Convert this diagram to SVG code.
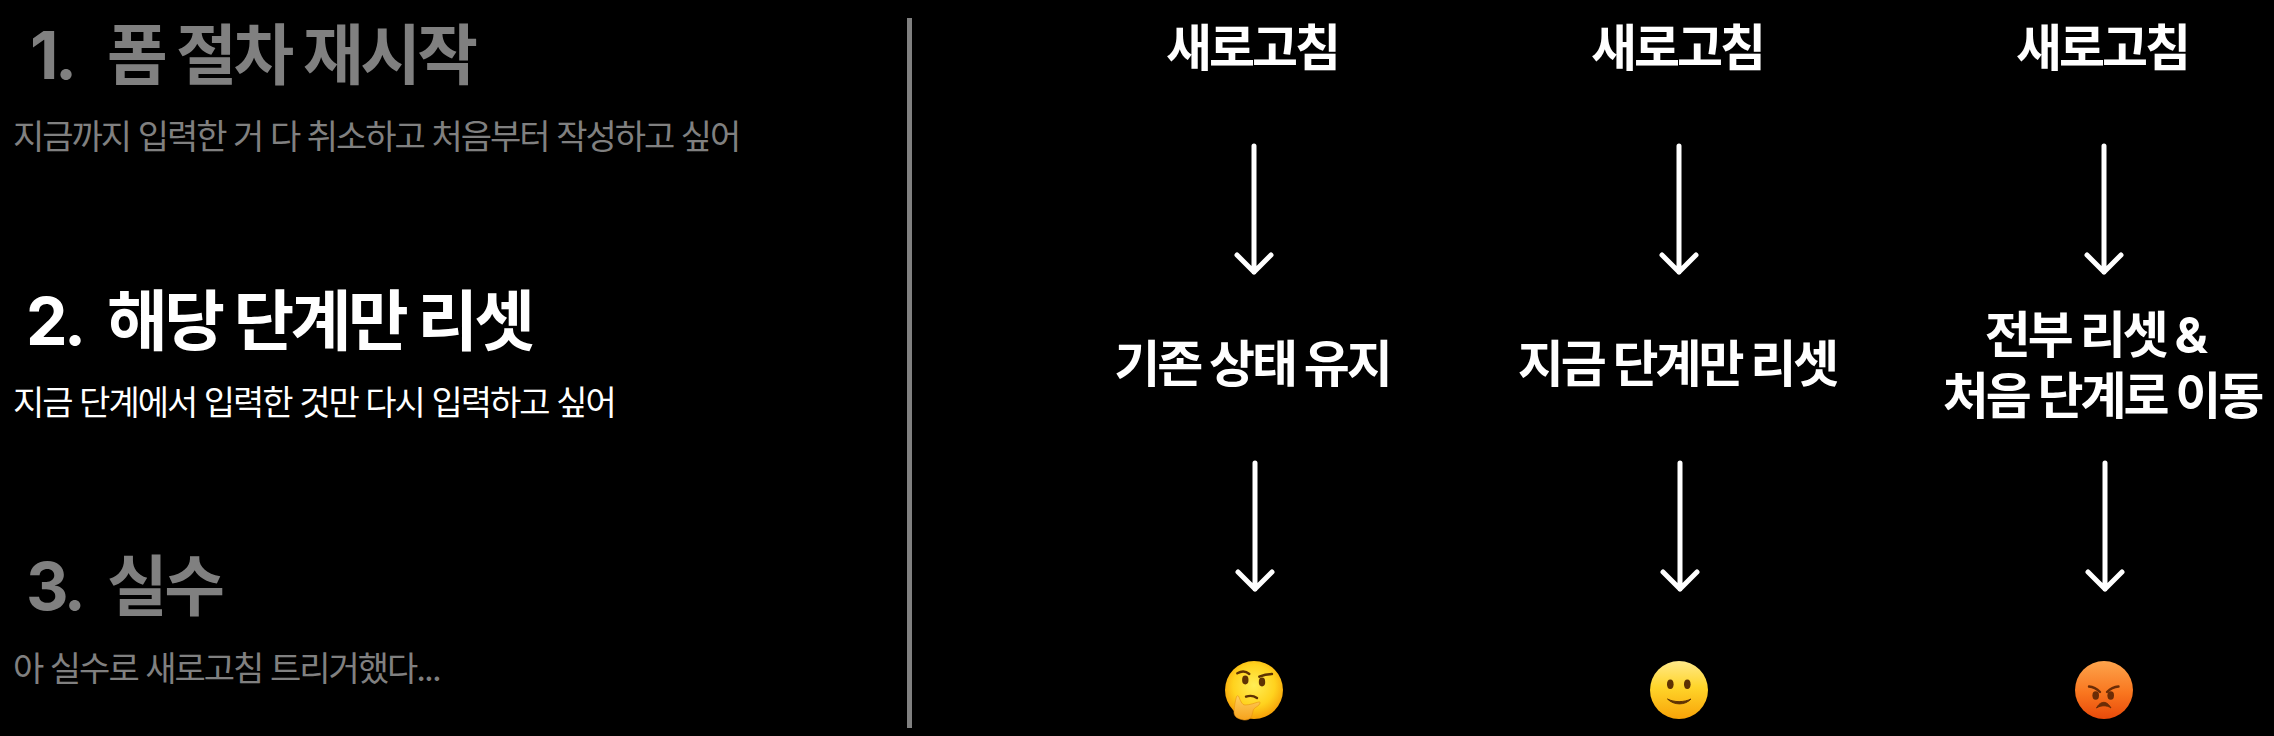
<svg xmlns="http://www.w3.org/2000/svg" width="2274" height="736" viewBox="0 0 2274 736">
<style>
text{font-family:Inter,"Noto Sans CJK KR","Noto Sans",sans-serif}
.t{font-size:66px;font-weight:700;letter-spacing:-3.500px}
.s{font-size:34px;font-weight:400;letter-spacing:-2px}
.h{font-size:50px;font-weight:700;fill:#fff;text-anchor:middle;letter-spacing:-3px}
.dim{fill:#808080}
.on{fill:#fff}
.a{fill:none;stroke:#fff;stroke-width:5;stroke-linecap:round;stroke-linejoin:round}
.ink{fill:#5e3203}
.line{fill:none;stroke:#5e3203;stroke-width:2.400;stroke-linecap:round}
</style>
<defs>
<radialGradient id="yellow" cx="50%" cy="42%" r="60%"><stop offset="0" stop-color="#ffee55"/><stop offset=".6" stop-color="#ffd21e"/><stop offset="1" stop-color="#f59a05"/></radialGradient>
<linearGradient id="smileFace" x1="0" y1="0" x2="0" y2="1"><stop offset="0" stop-color="#ffe98a"/><stop offset=".45" stop-color="#ffd52a"/><stop offset="1" stop-color="#f8a308"/></linearGradient>
<linearGradient id="angryFace" x1="0" y1="0" x2="0" y2="1"><stop offset="0" stop-color="#fda44c"/><stop offset=".55" stop-color="#f9761f"/><stop offset="1" stop-color="#e84a0a"/></linearGradient>
<linearGradient id="hand" x1="0" y1="0" x2="0" y2="1"><stop offset="0" stop-color="#ffcf5e"/><stop offset="1" stop-color="#f6a21c"/></linearGradient>
</defs>
<rect width="2274" height="736" fill="#000"/>
<g id="option-1"><text class="t dim" x="30" y="79">1.</text><text class="t dim" x="107" y="79">폼 절차 재시작</text><text class="s dim" x="13" y="149">지금까지 입력한 거 다 취소하고 처음부터 작성하고 싶어</text></g>
<g id="option-2"><text class="t on" x="26" y="345">2.</text><text class="t on" x="107" y="345">해당 단계만 리셋</text><text class="s on" x="13" y="415">지금 단계에서 입력한 것만 다시 입력하고 싶어</text></g>
<g id="option-3"><text class="t dim" x="26" y="610">3.</text><text class="t dim" x="107" y="610">실수</text><text class="s dim" x="13" y="681">아 실수로 새로고침 트리거했다...</text></g>
<rect id="divider" x="907" y="18" width="5" height="710" fill="#808080"/>
<g id="refresh-1"><text class="h" x="1252" y="66">새로고침</text></g>
<g id="refresh-2"><text class="h" x="1677" y="66">새로고침</text></g>
<g id="refresh-3"><text class="h" x="2102" y="66">새로고침</text></g>
<g id="result-1"><text class="h" x="1252" y="382">기존 상태 유지</text></g>
<g id="result-2"><text class="h" x="1677" y="382">지금 단계만 리셋</text></g>
<g id="result-3"><text class="h" x="2095" y="353">전부 리셋 &amp;</text><text class="h" x="2102" y="414">처음 단계로 이동</text></g>
<g id="connectors">
<path class="a" d="M1254 146V272M1237 255L1254 272L1271 255"/>
<path class="a" d="M1679 146V272M1662 255L1679 272L1696 255"/>
<path class="a" d="M2104 146V272M2087 255L2104 272L2121 255"/>
<path class="a" d="M1255 463V589M1238 572L1255 589L1272 572"/>
<path class="a" d="M1680 463V589M1663 572L1680 589L1697 572"/>
<path class="a" d="M2105 463V589M2088 572L2105 589L2122 572"/>
</g>
<g id="emoji-thinking" transform="translate(1254 690)">
<circle r="29" fill="url(#yellow)"/>
<ellipse class="ink" cx="-8.700" cy="-10" rx="3.200" ry="4.400"/><ellipse class="ink" cx="8" cy="-8" rx="3.200" ry="4.400"/>
<path class="line" d="M-16.700-16.700Q-10-20.500-4.700-16"/><path class="line" d="M5.300-13.300Q11-16 18-16"/><path class="line" d="M-8 6.700Q-2 4.500 3 8"/>
<path d="M-17.500 6.500C-19 12-19.500 16-20 21C-20.500 27-16 29-10 30C-3 30.500-2 26-1 21C-.5 17 6 16.500 6 12.500C6 10.500-2 15-9 15C-12 15-14 10-15 7C-15.500 5.500-17 5.500-17.500 6.500Z" fill="url(#hand)" stroke="#e8920f" stroke-width=".6"/>
</g>
<g id="emoji-smile" transform="translate(1679 690)">
<circle r="29" fill="url(#smileFace)"/>
<ellipse class="ink" cx="-8.700" cy="-5.700" rx="3.300" ry="4.700"/><ellipse class="ink" cx="8.300" cy="-5.700" rx="3.300" ry="4.700"/>
<path d="M-11.500 9C-5 12.500 5 12.500 12 9C6 15.500-5 15.500-11.500 9Z" class="ink" stroke="#5e3203" stroke-width="1" stroke-linejoin="round"/>
</g>
<g id="emoji-angry" transform="translate(2104 690)">
<circle r="29" fill="url(#angryFace)"/>
<ellipse class="ink" cx="-8.300" cy="5.500" rx="3.300" ry="4.200" style="fill:#6b2c06"/><ellipse class="ink" cx="6.700" cy="5.500" rx="3.300" ry="4.200" style="fill:#6b2c06"/>
<path class="line" style="stroke:#6b2c06" d="M-15-3.500Q-9-3-4 2"/><path class="line" style="stroke:#6b2c06" d="M14.500-3.500Q8-3 3 2"/>
<path d="M-7.500 18C-4 11.500 2 9.500 7 18C3 15-3 15-7.500 18Z" style="fill:#6b2c06" stroke="#6b2c06" stroke-linejoin="round"/>
</g>
</svg>
